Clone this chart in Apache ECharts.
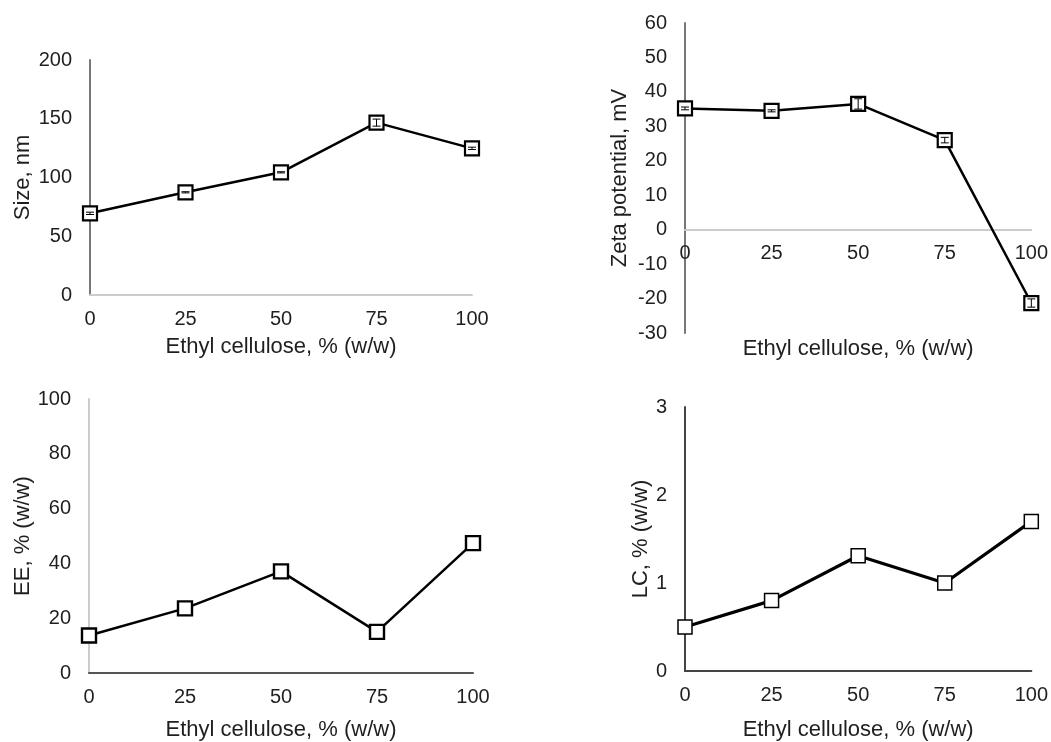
<!DOCTYPE html>
<html>
<head>
<meta charset="utf-8">
<script src="https://cdn.jsdelivr.net/npm/echarts@6/dist/echarts.min.js"></script>
<style>
  html, body { margin: 0; padding: 0; background: #fff; }
  #chart { width: 1051px; height: 742px; }
</style>
</head>
<body>
<div id="chart"></div>
<script>
// Ethyl cellulose content (% w/w)
const ecLevels = [0, 25, 50, 75, 100];
const xTicks = ['0', '25', '50', '75', '100'];

// Particle size (nm)
const sizeNm = [69.5, 87.4, 104.4, 146.7, 124.8];
const sizeErr = [1, 0.5, 0.5, 3, 1];

// Zeta potential (mV)
const zetaMv = [35.2, 34.5, 36.5, 26.0, -21.3];
const zetaErr = [0.4, 0.3, 1.5, 0.8, 1.2];

// Encapsulation efficiency (% w/w)
const eePct = [13.7, 23.6, 37.1, 15.0, 47.4];

// Loading capacity (% w/w)
const lcPct = [0.50, 0.80, 1.31, 1.00, 1.70];

const FONT = '"Liberation Sans", Arial, sans-serif';
const TXT = '#1f1f1f';
const TICK_SIZE = 20;
const TITLE_SIZE = 22;
const xTitle = 'Ethyl cellulose, % (w/w)';

function pairs(vals) { return ecLevels.map((x, i) => [x, vals[i]]); }

function xAxisDef(idx, lineColor, nameGap, offset) {
  return {
    type: 'value', gridIndex: idx, min: 0, max: 100, interval: 25,
    position: 'bottom', offset: offset || 0,
    name: xTitle, nameLocation: 'middle', nameGap: nameGap,
    nameTextStyle: { fontFamily: FONT, fontSize: TITLE_SIZE, color: TXT },
    axisLine: { show: true, onZero: false, lineStyle: { color: lineColor, width: 2 } },
    axisTick: { show: false },
    splitLine: { show: false },
    axisLabel: {
      fontFamily: FONT, fontSize: TICK_SIZE, color: TXT, margin: 14,
      formatter: v => xTicks[ecLevels.indexOf(v)] ?? ''
    }
  };
}

function yAxisDef(idx, min, max, interval, name, nameGap, lineColor) {
  return {
    type: 'value', gridIndex: idx, min: min, max: max, interval: interval,
    name: name, nameLocation: 'middle', nameGap: nameGap, nameRotate: 90,
    nameTextStyle: { fontFamily: FONT, fontSize: TITLE_SIZE, color: TXT },
    axisLine: { show: true, onZero: false, lineStyle: { color: lineColor, width: 2 } },
    axisTick: { show: false },
    splitLine: { show: false },
    axisLabel: { fontFamily: FONT, fontSize: TICK_SIZE, color: TXT, margin: 18 }
  };
}

function lineSeries(idx, vals, width, markerBorder) {
  return {
    type: 'line', xAxisIndex: idx, yAxisIndex: idx,
    data: pairs(vals),
    symbol: 'rect', symbolSize: 14,
    lineStyle: { color: '#000', width: width },
    itemStyle: { color: '#fff', borderColor: '#000', borderWidth: markerBorder },
    z: 3
  };
}

function errorSeries(idx, vals, errs) {
  return {
    type: 'custom', xAxisIndex: idx, yAxisIndex: idx, z: 5,
    data: ecLevels.map((x, i) => [x, vals[i], errs[i]]),
    renderItem: function (params, api) {
      const x = api.value(0), y = api.value(1), e = api.value(2);
      const lo = api.coord([x, y - e]);
      const hi = api.coord([x, y + e]);
      const cap = 4;
      const style = { stroke: '#000', lineWidth: 1 };
      return {
        type: 'group',
        children: [
          { type: 'line', shape: { x1: lo[0], y1: lo[1], x2: hi[0], y2: hi[1] }, style: style },
          { type: 'line', shape: { x1: lo[0] - cap, y1: lo[1], x2: lo[0] + cap, y2: lo[1] }, style: style },
          { type: 'line', shape: { x1: hi[0] - cap, y1: hi[1], x2: hi[0] + cap, y2: hi[1] }, style: style }
        ]
      };
    }
  };
}

// Zeta panel: x axis sits on the zero line, lifted from the grid bottom
const zetaGridTop = 23, zetaGridHeight = 310, zetaMin = -30, zetaMax = 60;
const zetaZeroLift = -zetaGridHeight * (0 - zetaMin) / (zetaMax - zetaMin);

const chart = echarts.init(document.getElementById('chart'), null, { renderer: 'canvas' });
chart.setOption({
  animation: false,
  backgroundColor: '#fff',
  grid: [
    { left: 90, top: 60, width: 382, height: 235 },
    { left: 685, top: zetaGridTop, width: 348, height: zetaGridHeight },
    { left: 89, top: 399, width: 384, height: 274 },
    { left: 685, top: 407, width: 348, height: 266 }
  ],
  xAxis: [
    xAxisDef(0, '#cccccc', 41),
    xAxisDef(1, '#cccccc', 108, zetaZeroLift),
    xAxisDef(2, '#555555', 46),
    xAxisDef(3, '#444444', 48)
  ],
  yAxis: [
    yAxisDef(0, 0, 200, 50, 'Size, nm', 56, '#777777'),
    yAxisDef(1, zetaMin, zetaMax, 10, 'Zeta potential, mV', 54, '#777777'),
    yAxisDef(2, 0, 100, 20, 'EE, % (w/w)', 55, '#cccccc'),
    yAxisDef(3, 0, 3, 1, 'LC, % (w/w)', 31, '#444444')
  ],
  series: [
    lineSeries(0, sizeNm, 2.5, 2.2),
    errorSeries(0, sizeNm, sizeErr),
    lineSeries(1, zetaMv, 2.5, 2.2),
    errorSeries(1, zetaMv, zetaErr),
    lineSeries(2, eePct, 2.5, 2.4),
    lineSeries(3, lcPct, 3.2, 1.5)
  ]
});
</script>
</body>
</html>
